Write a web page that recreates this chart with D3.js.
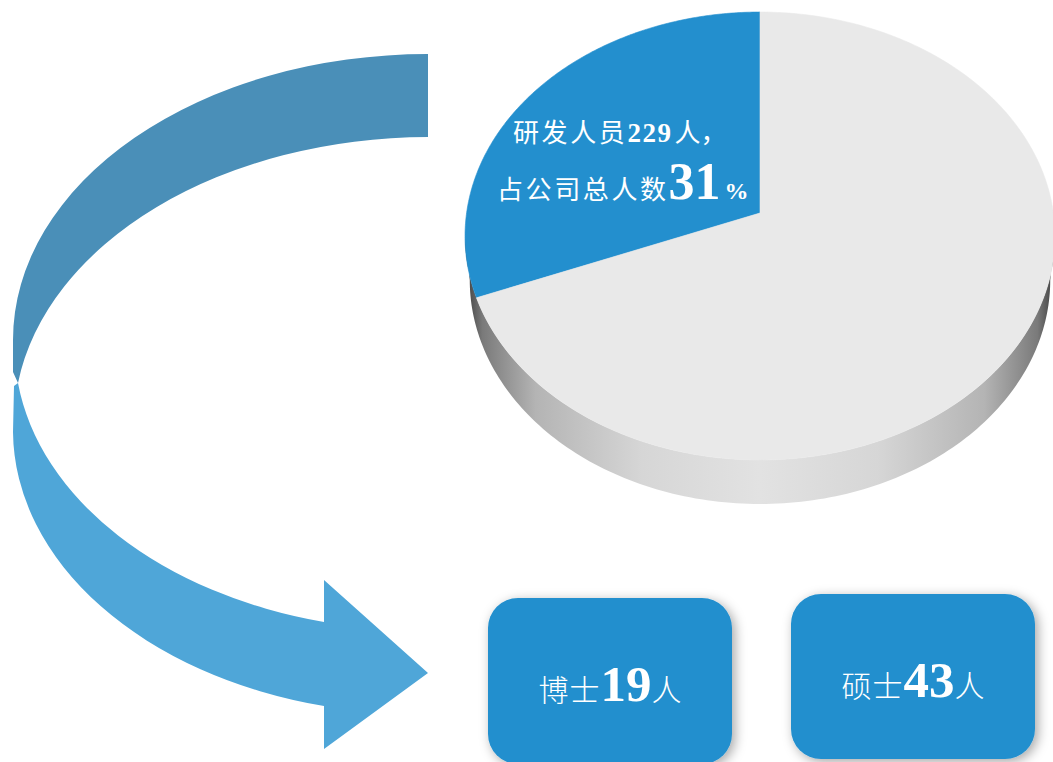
<!DOCTYPE html>
<html>
<head>
<meta charset="utf-8">
<script src="https://cdn.jsdelivr.net/npm/d3@7"></script>
<style>
html,body{margin:0;padding:0;background:#fff;}
svg{display:block;}
</style>
</head>
<body>
<script>
// ---- data ----
const categories = ["研发人员", "其他人员"];
const shares = [31, 69];               // percent of total staff
const rdCount = [229];                 // R&D staff
const degreeLabels = ["博士", "硕士"];
const degreeCounts = [19, 43];
const unit = "人";

const W = 1053, H = 762;
const svg = d3.select("body").append("svg").attr("width", W).attr("height", H);
const defs = svg.append("defs");

const CJK = "'Noto Sans CJK SC','Noto Sans CJK TC',sans-serif";
const SERIF = "'Liberation Serif','Times New Roman',serif";
const BLUE = "#238fce";

// ---- curved ribbon arrow (decoration) ----
svg.append("path")
  .attr("d", "M428,54 A415,286 0 0 0 13,340 L13,372 L18,383 A415,286 0 0 1 428,137 Z")
  .attr("fill", "#4a8fb8");
svg.append("path")
  .attr("d", "M18,383 L14,386 L13,432 A407,284 0 0 0 324,706 L324,749 L428,673 L324,580 L324,622 A407,284 0 0 1 18,383 Z")
  .attr("fill", "#4fa6d8");

// ---- 3D pie ----
const cx = 760, cy = 213, k = 0.1027, A = 293.4, B = 221.6, T = 44, S = 0.984;
function proj(a, dy, sx) {
  const u = Math.sin(a), v = -Math.cos(a);
  const w = 1 - k * v;
  return [cx + (sx || 1) * A * u / w, cy + B * v / w + (dy || 0)];
}
function sample(a0, a1, dy, n, sx) {
  const pts = [];
  for (let i = 0; i <= n; i++) pts.push(proj(a0 + (a1 - a0) * i / n, dy, sx));
  return pts;
}
const line = d3.line();

// side gradient
const sg = defs.append("linearGradient").attr("id", "side")
  .attr("gradientUnits", "userSpaceOnUse")
  .attr("x1", cx - A * 1.006).attr("x2", cx + A * 1.006).attr("y1", 0).attr("y2", 0);
[[0, "#3c3c3c"], [0.03, "#7a7a7a"], [0.12, "#b4b4b4"], [0.3, "#d6d6d6"], [0.5, "#e2e2e2"],
 [0.7, "#d6d6d6"], [0.88, "#b4b4b4"], [0.97, "#7a7a7a"], [1, "#3c3c3c"]]
  .forEach(([o, c]) => sg.append("stop").attr("offset", o).attr("stop-color", c));

const aR = Math.PI / 2 + Math.asin(k), aL = 3 * Math.PI / 2 - Math.asin(k);
const sidePts = sample(aR, aL, 0, 160).concat(sample(aL, aR, T, 160, S));
svg.append("path").attr("d", line(sidePts) + "Z").attr("fill", "url(#side)");

const pieGen = d3.pie().sort(null).value(d => d).startAngle(0).endAngle(-2 * Math.PI);
const arcs = pieGen(shares);
const sliceColors = [BLUE, "#e9e9e9"];
arcs.forEach((d, i) => {
  const pts = [[cx, cy]].concat(sample(d.startAngle, d.endAngle, 0, 200));
  svg.append("path").attr("d", line(pts) + "Z")
    .attr("fill", sliceColors[i])
    .attr("stroke", sliceColors[i]).attr("stroke-width", 0.6);
});

// slice label
const lab = svg.append("g").attr("fill", "#fff");
const t1 = lab.append("text").attr("x", 513).attr("y", 142);
t1.append("tspan").attr("font-family", CJK).attr("font-size", 26).attr("letter-spacing", 2.6).text(categories[0]);
t1.append("tspan").attr("font-family", SERIF).attr("font-weight", "bold").attr("font-size", 27).attr("letter-spacing", 1.5).text(rdCount[0]);
t1.append("tspan").attr("font-family", CJK).attr("font-size", 26).attr("dx", 2).text("人，");
const t2 = lab.append("text").attr("x", 497).attr("y", 199);
t2.append("tspan").attr("font-family", CJK).attr("font-size", 26).attr("letter-spacing", 2.6).text("占公司总人数");
t2.append("tspan").attr("font-family", SERIF).attr("font-weight", "bold").attr("font-size", 52).text(shares[0]);
t2.append("tspan").attr("font-family", SERIF).attr("font-weight", "bold").attr("font-size", 24).attr("dx", 4).text("%");

// ---- degree boxes ----
const f = defs.append("filter").attr("id", "shadow").attr("x", "-20%").attr("y", "-20%").attr("width", "140%").attr("height", "140%");
f.append("feDropShadow").attr("dx", 3).attr("dy", 3).attr("stdDeviation", 6)
  .attr("flood-color", "#000").attr("flood-opacity", 0.35);

const boxes = [
  {x: 488, y: 598, w: 244, h: 166, base: 701},
  {x: 791, y: 594, w: 244, h: 165, base: 697}
];
degreeLabels.forEach((lbl, i) => {
  const b = boxes[i];
  svg.append("rect").attr("x", b.x).attr("y", b.y).attr("width", b.w).attr("height", b.h)
    .attr("rx", 30).attr("ry", 30).attr("fill", BLUE).attr("filter", "url(#shadow)");
  const t = svg.append("text").attr("x", b.x + b.w / 2).attr("y", b.base)
    .attr("text-anchor", "middle").attr("fill", "#fff");
  t.append("tspan").attr("font-family", CJK).attr("font-size", 30).attr("font-weight", 300).attr("letter-spacing", 1).text(lbl);
  t.append("tspan").attr("font-family", SERIF).attr("font-weight", "bold").attr("font-size", 51).text(degreeCounts[i]);
  t.append("tspan").attr("font-family", CJK).attr("font-size", 30).attr("font-weight", 300).text(unit);
});
</script>
</body>
</html>
